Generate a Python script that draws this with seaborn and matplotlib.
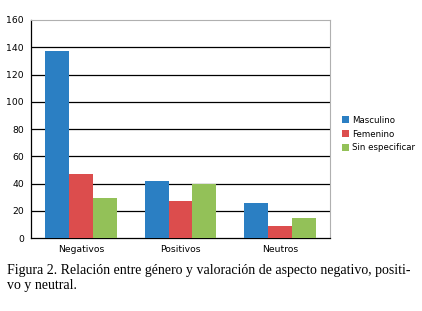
import pandas as pd
import matplotlib
matplotlib.use("Agg")
import matplotlib.pyplot as plt
import seaborn as sns

# Data
categorias = ["Negativos", "Positivos", "Neutros"]
generos = ["Masculino", "Femenino", "Sin especificar"]
masculino = [137, 42, 26]
femenino = [47, 27, 9]
sin_especificar = [29, 40, 15]

df = pd.DataFrame({
    "categoria": categorias * 3,
    "genero": [generos[0]] * 3 + [generos[1]] * 3 + [generos[2]] * 3,
    "valor": masculino + femenino + sin_especificar,
})

colores = ["#2b7fc3", "#dc4d4d", "#93c158"]

sns.set_style("white")
plt.rcParams["font.family"] = ["DejaVu Sans"]
plt.rcParams["text.color"] = "black"
plt.rcParams["xtick.color"] = "black"
plt.rcParams["ytick.color"] = "black"

fig = plt.figure(figsize=(4.22, 3.11), dpi=100)
ax = fig.add_axes([0.0735, 0.2347, 0.7085, 0.701])

sns.barplot(data=df, x="categoria", y="valor", hue="genero", hue_order=generos,
            palette=colores, width=0.72, gap=0, saturation=1, errorbar=None,
            edgecolor="none", ax=ax, zorder=3)

ax.set_ylim(0, 160)
ax.set_xlim(-0.5, 2.5)
ax.set_yticks(range(0, 161, 20))
ax.tick_params(axis="y", labelsize=6.7, length=3, width=0.8, pad=2, direction="out")

# category labels centred, tick marks on the group boundaries
ax.set_xticks([-0.5, 0.5, 1.5, 2.5])
ax.set_xticklabels([])
ax.set_xticks([0, 1, 2], minor=True)
ax.set_xticklabels(categorias, minor=True, fontsize=6.7)
ax.tick_params(axis="x", which="major", length=3, width=0.8, direction="out")
ax.tick_params(axis="x", which="minor", length=0, pad=5)
ax.set_xlabel("")
ax.set_ylabel("")

for y in range(20, 160, 20):
    ax.axhline(y, color="black", linewidth=0.9, zorder=1)

for s in ["left", "bottom"]:
    ax.spines[s].set_color("black")
    ax.spines[s].set_linewidth(0.9)
for s in ["top", "right"]:
    ax.spines[s].set_color("#b0b0b0")
    ax.spines[s].set_linewidth(0.8)

leg = ax.legend(loc="center left", bbox_to_anchor=(1.03, 0.477), frameon=False,
                fontsize=6.2, handlelength=0.8, handleheight=0.8,
                handletextpad=0.3, labelspacing=0.55, borderaxespad=0)

fig.text(0.017, 0.106,
         "Figura 2. Relación entre género y valoración de aspecto negativo, positi-\nvo y neutral.",
         fontsize=10, family="Liberation Serif", ha="left", va="center",
         linespacing=1.2)

fig.savefig("out.png", dpi=100)
